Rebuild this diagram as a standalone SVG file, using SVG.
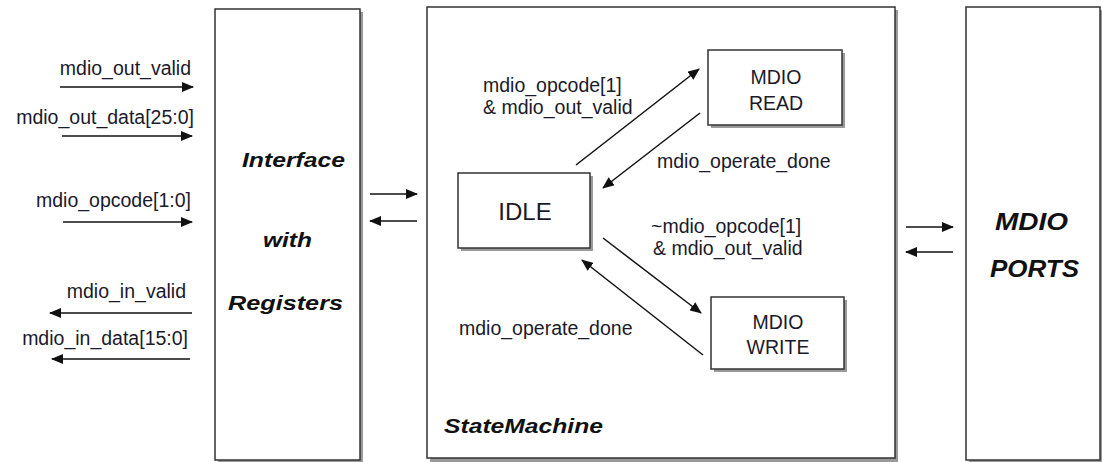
<svg xmlns="http://www.w3.org/2000/svg" width="1102" height="462" viewBox="0 0 1102 462">
<defs>
<marker id="ah" viewBox="0 0 12 10" refX="11" refY="5" markerWidth="12" markerHeight="10" markerUnits="userSpaceOnUse" orient="auto">
<path d="M0,0 L12,5 L0,10 Z" fill="#111"/>
</marker>
</defs>
<style>
.box{fill:#fff;stroke:#333;stroke-width:1.5}
.shadow{fill:#9a9a9a}
.lbl{font-family:"Liberation Sans",Arial,sans-serif;font-size:19.5px;fill:#1a1a2a}
.st{font-family:"Liberation Sans",Arial,sans-serif;font-size:19.5px;fill:#1a1a2a;text-anchor:middle}
.big{font-family:"Liberation Sans",Arial,sans-serif;font-size:21px;font-weight:bold;font-style:italic;fill:#111}
.ln{stroke:#111;stroke-width:1.5;fill:none;marker-end:url(#ah)}
</style>
<rect width="1102" height="462" fill="#fff"/>

<g id="interface">
<rect class="shadow" x="218" y="12" width="145" height="452"/>
<rect class="box" x="215" y="9" width="145" height="451"/>
<text class="big" x="242" y="167" textLength="103" lengthAdjust="spacingAndGlyphs">Interface</text>
<text class="big" x="263" y="247" textLength="49" lengthAdjust="spacingAndGlyphs">with</text>
<text class="big" x="228" y="310" textLength="115" lengthAdjust="spacingAndGlyphs">Registers</text>
</g>

<g id="statemachine">
<rect class="shadow" x="430" y="10" width="468" height="452"/>
<rect class="box" x="427" y="7" width="468" height="451"/>
<text class="big" x="444" y="433" textLength="159" lengthAdjust="spacingAndGlyphs">StateMachine</text>
</g>

<g id="ports">
<rect class="shadow" x="969" y="10" width="134" height="453"/>
<rect class="box" x="966" y="7" width="134" height="453"/>
<text class="big" x="995" y="230" style="font-size:24px" textLength="73" lengthAdjust="spacingAndGlyphs">MDIO</text>
<text class="big" x="990" y="277" style="font-size:24px" textLength="89" lengthAdjust="spacingAndGlyphs">PORTS</text>
</g>

<g id="idle">
<rect class="shadow" x="461" y="176" width="132" height="75"/>
<rect class="box" x="458" y="173" width="132" height="75"/>
<text class="st" x="525" y="220" style="font-size:24px">IDLE</text>
</g>

<g id="read">
<rect class="shadow" x="711" y="53" width="134" height="75"/>
<rect class="box" x="708" y="50" width="134" height="75"/>
<text class="st" x="776" y="84">MDIO</text>
<text class="st" x="776" y="110">READ</text>
</g>

<g id="write">
<rect class="shadow" x="714" y="300" width="133" height="72"/>
<rect class="box" x="711" y="297" width="133" height="72"/>
<text class="st" x="778" y="329">MDIO</text>
<text class="st" x="778" y="354">WRITE</text>
</g>

<g id="connectors">
<line class="ln" x1="60" y1="87" x2="193" y2="87"/>
<line class="ln" x1="62" y1="136" x2="192" y2="136"/>
<line class="ln" x1="63" y1="222" x2="192" y2="222"/>
<line class="ln" x1="192" y1="313" x2="50" y2="313"/>
<line class="ln" x1="190" y1="359" x2="52" y2="359"/>
<line class="ln" x1="370" y1="194" x2="417" y2="194"/>
<line class="ln" x1="417" y1="221" x2="370" y2="221"/>
<line class="ln" x1="906" y1="227" x2="953" y2="227"/>
<line class="ln" x1="953" y1="252" x2="906" y2="252"/>
<line class="ln" x1="576" y1="165" x2="699" y2="69"/>
<line class="ln" x1="700" y1="113" x2="603" y2="188"/>
<line class="ln" x1="603" y1="238" x2="701" y2="313"/>
<line class="ln" x1="703" y1="355" x2="582" y2="260"/>
</g>

<g id="labels">
<text class="lbl" x="191" y="75" text-anchor="end">mdio_out_valid</text>
<text class="lbl" x="194" y="124" text-anchor="end">mdio_out_data[25:0]</text>
<text class="lbl" x="191" y="207" text-anchor="end">mdio_opcode[1:0]</text>
<text class="lbl" x="186" y="298" text-anchor="end">mdio_in_valid</text>
<text class="lbl" x="188" y="345" text-anchor="end">mdio_in_data[15:0]</text>
<text class="lbl" x="483" y="92">mdio_opcode[1]</text>
<text class="lbl" x="483" y="114">&amp; mdio_out_valid</text>
<text class="lbl" x="657" y="168">mdio_operate_done</text>
<text class="lbl" x="651" y="233">~mdio_opcode[1]</text>
<text class="lbl" x="653" y="255">&amp; mdio_out_valid</text>
<text class="lbl" x="459" y="335">mdio_operate_done</text>
</g>
</svg>
